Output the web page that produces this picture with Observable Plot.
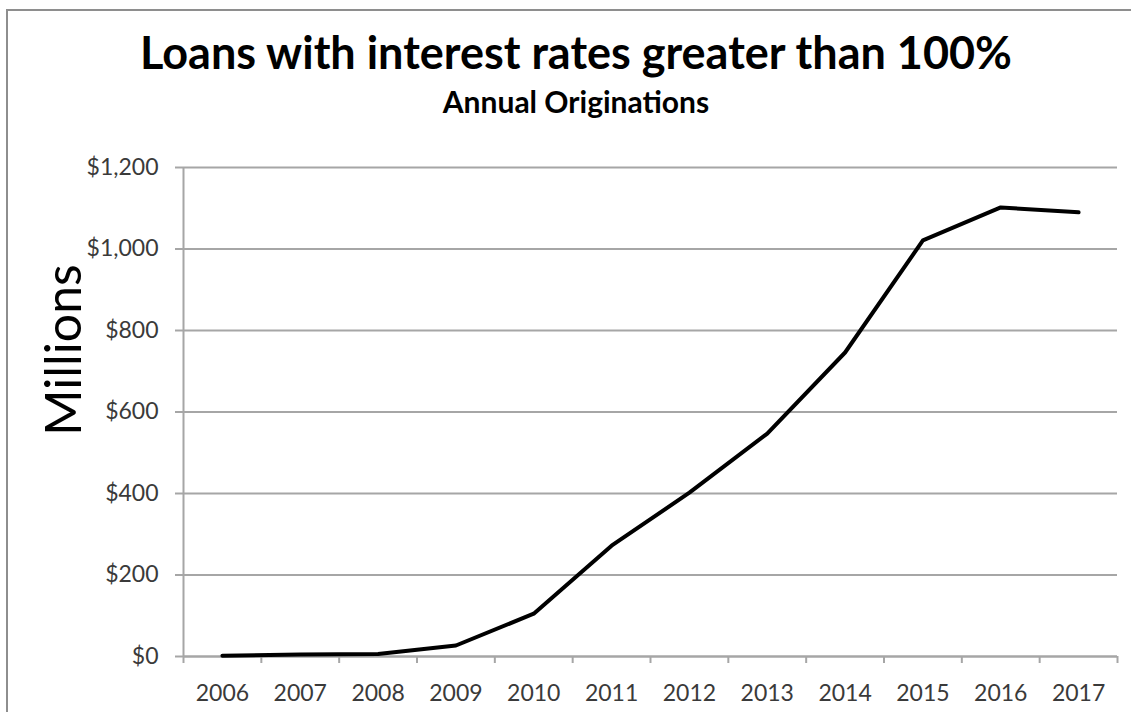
<!DOCTYPE html>
<html>
<head>
<meta charset="utf-8">
<script src="https://cdn.jsdelivr.net/npm/d3@7"></script>
<script src="https://cdn.jsdelivr.net/npm/@observablehq/plot@0.6"></script>
<style>
  html, body { margin: 0; padding: 0; background: #fff; overflow: hidden; }
  #wrap { position: relative; width: 1131px; height: 712px; overflow: hidden; font-family: Lato, "Open Sans", sans-serif; }
  #frameTop { position: absolute; left: 6px; top: 9px; width: 1125px; height: 2px; background: #8e8e8e; }
  #frameLeft { position: absolute; left: 6px; top: 9px; width: 2px; height: 703px; background: #8e8e8e; }
  #title { position: absolute; left: 0; width: 1152px; top: 24px; text-align: center; font-weight: bold; font-size: 45px; color: #000; line-height: 56px; }
  #subtitle { position: absolute; left: 0; width: 1152px; top: 83px; text-align: center; font-weight: bold; font-size: 30px; color: #000; line-height: 36px; }
  #ylabel { position: absolute; left: 62px; top: 350px; transform: translate(-50%, -50%) rotate(-90deg); font-size: 50px; color: #000; white-space: nowrap; line-height: 50px; }
  #chart { position: absolute; left: 0; top: 140px; }
</style>
</head>
<body>
<div id="wrap">
  <div id="frameTop"></div>
  <div id="frameLeft"></div>
  <div id="title">Loans with interest rates greater than 100%</div>
  <div id="subtitle">Annual Originations</div>
  <div id="ylabel">Millions</div>
  <div id="chart"></div>
</div>
<script>
const years = [2006, 2007, 2008, 2009, 2010, 2011, 2012, 2013, 2014, 2015, 2016, 2017];
const originations = [2, 5, 6, 27, 105, 272, 402, 547, 746, 1021, 1102, 1090];
const yTicks = [0, 200, 400, 600, 800, 1000, 1200];
const yearEdges = [2005.5, 2006.5, 2007.5, 2008.5, 2009.5, 2010.5, 2011.5, 2012.5, 2013.5, 2014.5, 2015.5, 2016.5, 2017.5];

const data = years.map((year, i) => ({year, value: originations[i]}));
const grey = "#a6a6a6";
const fmt = d3.format("$,");

const chart = Plot.plot({
  width: 1131,
  height: 572,
  marginTop: 27,
  marginBottom: 56,
  marginLeft: 183,
  marginRight: 14,
  style: { fontFamily: "Lato, 'Open Sans', sans-serif", color: "#3a3a3a", background: "transparent" },
  x: { domain: [2005.5, 2017.5], axis: null },
  y: { domain: [0, 1200], axis: null },
  marks: [
    Plot.gridY(yTicks, { stroke: grey, strokeOpacity: 1, strokeWidth: 2 }),
    Plot.axisY({ ticks: yTicks, tickSize: 8, tickFormat: fmt, stroke: grey, strokeWidth: 2, fontSize: 23, tickPadding: 17, label: null, fill: "#3a3a3a" }),
    Plot.ruleX([2005.5], { stroke: grey, strokeWidth: 2 }),
    Plot.ruleY([0], { stroke: grey, strokeWidth: 2 }),
    Plot.axisX({ ticks: yearEdges, tickSize: 7, tickFormat: () => "", stroke: grey, strokeWidth: 2, label: null }),
    Plot.axisX({ ticks: years, tickSize: 0, tickFormat: "d", tickPadding: 28, fontSize: 23, label: null, fill: "#3a3a3a" }),
    Plot.line(data, { x: "year", y: "value", stroke: "#000", strokeWidth: 4, strokeLinejoin: "round" })
  ]
});
document.getElementById("chart").appendChild(chart);
</script>
</body>
</html>
